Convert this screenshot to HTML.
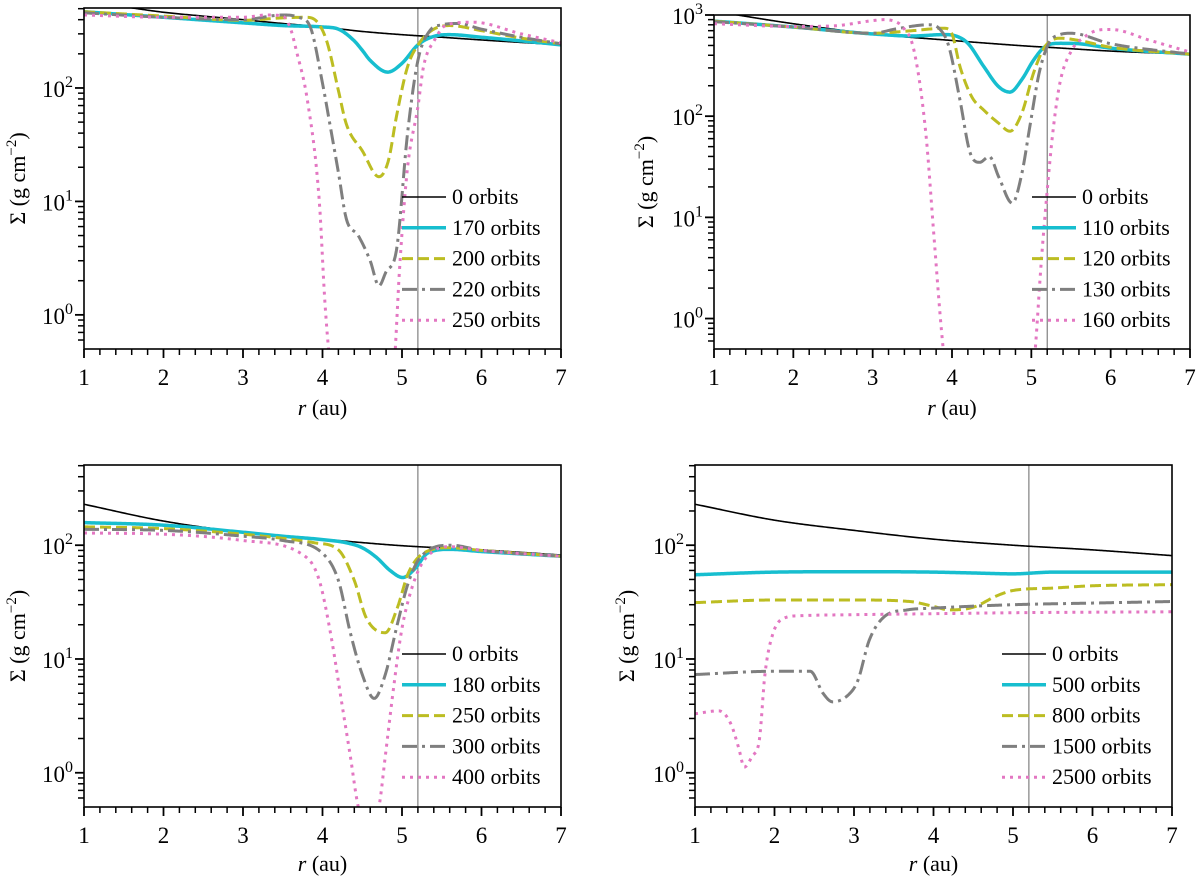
<!DOCTYPE html>
<html><head><meta charset="utf-8"><title>Surface density profiles</title>
<style>
html,body{margin:0;padding:0;background:#fff;}
svg{display:block;font-family:"Liberation Serif",serif;}
</style></head>
<body>
<svg id="fig" width="1200" height="878" viewBox="0 0 1200 878" xmlns="http://www.w3.org/2000/svg"></svg>
<script>
// ---------- Panel 1 (top-left) ----------
const p1_r0=[1,1.5,2,2.5,3,3.5,4,4.5,5,5.5,6,6.5,7];
const p1_s0=[580,520,465,430,400,370,345,315,295,280,265,252,240];
const p1_r1=[1,2,3,3.5,4,4.2,4.4,4.5,4.6,4.82,5.0,5.2,5.4,5.6,6,6.5,7];
const p1_s1=[470,420,375,355,345,330,260,215,175,138,165,240,285,295,280,260,240];
const p1_r2=[1,2,3,3.5,3.8,3.95,4.06,4.2,4.3,4.5,4.71,4.83,4.93,5.07,5.22,5.4,5.6,6,6.5,7];
const p1_s2=[470,430,395,415,420,370,250,95,48,28,16.5,23,56,154,250,330,355,320,275,245];
const p1_r3=[1,2,3,3.5,3.7,3.85,4.0,4.1,4.2,4.3,4.45,4.6,4.71,4.8,4.93,5.07,5.2,5.35,5.5,5.7,6,6.5,7];
const p1_s3=[460,420,400,440,420,340,110,45,18,7,5,3,1.8,2.4,3.7,40,175,320,360,370,330,280,245];
const p1_r4=[1,2,3,3.3,3.5,3.6,3.67,3.81,3.96,4.03,4.1,4.3,4.5,4.7,4.9,4.97,5.07,5.2,5.27,5.41,5.56,5.9,6.5,7];
const p1_s4=[440,420,420,440,430,330,215,78,10,1.3,0.35,0.1,0.1,0.1,0.35,2.6,20,68,154,265,360,380,300,250];
const p1_labels=["0 orbits","170 orbits","200 orbits","220 orbits","250 orbits"];
// ---------- Panel 2 (top-right) ----------
const p2_r0=[1,1.3,2,3,4,5,5.2,6,7];
const p2_s0=[1100,1000,820,650,560,490,480,440,410];
const p2_r1=[1,2,3,3.5,3.9,4.05,4.2,4.4,4.59,4.73,4.88,5.03,5.17,5.36,5.6,6,7];
const p2_s1=[870,760,650,620,640,620,525,310,195,173,230,360,485,525,520,470,410];
const p2_r2=[1,2,3,3.5,3.9,4.0,4.1,4.25,4.4,4.59,4.73,4.88,5.03,5.17,5.36,5.6,6,7];
const p2_s2=[870,760,660,700,740,650,310,155,115,85,71,107,270,485,590,560,480,410];
const p2_r3=[1,2,3,3.3,3.7,3.85,3.96,4.1,4.23,4.35,4.47,4.59,4.76,4.88,4.98,5.1,5.22,5.36,5.5,6,7];
const p2_s3=[860,760,660,730,800,720,490,145,43,35,40,25,13.8,27,78,270,525,640,660,520,410];
const p2_r4=[1,2,2.5,3.0,3.15,3.3,3.38,3.52,3.67,3.77,3.87,3.95,4.2,4.6,5.0,5.05,5.12,5.19,5.27,5.36,5.51,5.65,5.85,6.0,6.5,7];
const p2_s4=[820,770,780,880,900,850,760,450,68,6.9,0.72,0.2,0.1,0.1,0.2,0.5,3.2,15,68,213,450,590,710,720,560,430];
const p2_labels=["0 orbits","110 orbits","120 orbits","130 orbits","160 orbits"];
// ---------- Panel 3 (bottom-left) ----------
const p3_r0=[1,2,3,4,5,6,7];
const p3_s0=[229,163,130,113,99,91,82];
const p3_r1=[1,2,3,3.5,4,4.3,4.5,4.68,4.85,5.01,5.17,5.32,5.6,6,7];
const p3_s1=[158,150,130,120,112,105,95,78,60,52,63,85,92,88,80];
const p3_r2=[1,2,3,3.5,3.9,4.2,4.4,4.55,4.79,4.94,5.08,5.27,5.6,6,7];
const p3_s2=[145,140,125,115,105,91,49,23,17,28,57,85,95,90,80];
const p3_r3=[1,2,3,3.5,4.0,4.2,4.35,4.5,4.65,4.79,4.94,5.08,5.23,5.62,6,7];
const p3_s3=[138,135,120,110,85,49,17,7.3,4.5,7.3,20,47,78,100,90,80];
const p3_r4=[1,2,3,3.8,3.96,4.1,4.25,4.35,4.45,4.58,4.71,4.79,4.89,4.99,5.08,5.23,5.42,5.6,6,7];
const p3_s4=[128,125,110,78,49,17,3.8,1.4,0.5,0.3,0.5,1.4,5.3,17,33,65,91,97,90,80];
const p3_labels=["0 orbits","180 orbits","250 orbits","300 orbits","400 orbits"];
// ---------- Panel 4 (bottom-right) ----------
const p4_r0=[1,2,3,4,5,6,7];
const p4_s0=[229,166,135,113,100,91,81];
const p4_r1=[1,2,3,4,4.5,5,5.5,6,7];
const p4_s1=[55,58,58.5,58,57,56,58,58,58];
const p4_r2=[1,2,3,3.7,4,4.2,4.5,4.8,5,5.5,6,7];
const p4_s2=[31.3,33,33,32,29,27,28.5,36,40,42,44,45];
const p4_r3=[1,2,2.45,2.61,2.73,2.95,3.05,3.19,3.38,3.67,4,5,6,7];
const p4_s3=[7.3,7.8,7.8,5.0,4.2,5.0,6.5,14.5,23.5,27,28,30,31,32];
const p4_r4=[1,1.3,1.45,1.55,1.62,1.72,1.81,1.88,1.98,2.13,2.32,3,4,5,7];
const p4_s4=[3.3,3.5,2.7,1.65,1.12,1.4,1.95,7.4,16.7,23,24,24.5,25,25.5,26];
const p4_labels=["0 orbits","500 orbits","800 orbits","1500 orbits","2500 orbits"];
const xTicks=[1,2,3,4,5,6,7];
const planetR=5.2;

const NS="http://www.w3.org/2000/svg";
const svg=document.getElementById('fig');
function mk(tag,attrs,parent){const e=document.createElementNS(NS,tag);for(const k in attrs)e.setAttribute(k,attrs[k]);(parent||svg).appendChild(e);return e;}

const styles=[
 {stroke:"#000",w:1.6,dash:null},
 {stroke:"#17becf",w:3.5,dash:null},
 {stroke:"#bcbd22",w:3,dash:"11,5"},
 {stroke:"#7f7f7f",w:3,dash:"15,5,3,5"},
 {stroke:"#e377c2",w:3,dash:"3,5"}
];
const panels=[
 {id:"top-left",x0:84,x1:561,yT:8,yB:349,lmin:-0.301,lmax:2.705,rs:[p1_r0,p1_r1,p1_r2,p1_r3,p1_r4],ss:[p1_s0,p1_s1,p1_s2,p1_s3,p1_s4],labels:p1_labels,legX:402,legY:197,ylabX:18,xt:36,xl:66},
 {id:"top-right",x0:714,x1:1190,yT:15,yB:349,lmin:-0.301,lmax:3,rs:[p2_r0,p2_r1,p2_r2,p2_r3,p2_r4],ss:[p2_s0,p2_s1,p2_s2,p2_s3,p2_s4],labels:p2_labels,legX:1032,legY:197,ylabX:646,xt:36,xl:66},
 {id:"bottom-left",x0:84,x1:561,yT:465,yB:807,lmin:-0.301,lmax:2.705,rs:[p3_r0,p3_r1,p3_r2,p3_r3,p3_r4],ss:[p3_s0,p3_s1,p3_s2,p3_s3,p3_s4],labels:p3_labels,legX:402,legY:654,ylabX:18,xt:36,xl:64},
 {id:"bottom-right",x0:695,x1:1172,yT:465,yB:807,lmin:-0.301,lmax:2.705,rs:[p4_r0,p4_r1,p4_r2,p4_r3,p4_r4],ss:[p4_s0,p4_s1,p4_s2,p4_s3,p4_s4],labels:p4_labels,legX:1002,legY:654,ylabX:627,xt:36,xl:64}
];

function monotone(xs,ys){
 const n=xs.length,d=[],m=new Array(n);
 for(let i=0;i<n-1;i++)d.push((ys[i+1]-ys[i])/(xs[i+1]-xs[i]));
 m[0]=d[0];m[n-1]=d[n-2];
 for(let i=1;i<n-1;i++){m[i]=(d[i-1]*d[i]<=0)?0:(d[i-1]+d[i])/2;}
 for(let i=0;i<n-1;i++){if(d[i]===0){m[i]=0;m[i+1]=0;continue;}const a=m[i]/d[i],b=m[i+1]/d[i],s=a*a+b*b;if(s>9){const t=3/Math.sqrt(s);m[i]=t*a*d[i];m[i+1]=t*b*d[i];}}
 return function(x){let i=0;while(i<n-2&&x>xs[i+1])i++;const h=xs[i+1]-xs[i],t=(x-xs[i])/h,t2=t*t,t3=t2*t;
  return (2*t3-3*t2+1)*ys[i]+(t3-2*t2+t)*h*m[i]+(-2*t3+3*t2)*ys[i+1]+(t3-t2)*h*m[i+1];};
}

panels.forEach((P,pi)=>{
 const g=mk('g',{});
 
 
 const X=r=>P.x0+(r-1)/6*(P.x1-P.x0);
 const Y=v=>P.yB-(Math.log10(v)-P.lmin)/(P.lmax-P.lmin)*(P.yB-P.yT);
 const cp=mk('clipPath',{id:'clip'+pi},g);
 mk('rect',{x:P.x0,y:P.yT,width:P.x1-P.x0,height:P.yB-P.yT},cp);
 const pl=mk('line',{x1:X(planetR),x2:X(planetR),y1:P.yT,y2:P.yB,stroke:"#666",'stroke-width':1},g);
 
 
 const sg=mk('g',{'clip-path':'url(#clip'+pi+')'},g);
 P.rs.forEach((rs,si)=>{
  const ls=P.ss[si].map(v=>Math.log10(v));
  const f=monotone(rs,ls);
  let d="";const N=400;
  for(let k=0;k<=N;k++){const r=rs[0]+(rs[rs.length-1]-rs[0])*k/N;const l=f(r);const y=P.yB-(l-P.lmin)/(P.lmax-P.lmin)*(P.yB-P.yT);d+=(k?"L":"M")+X(r).toFixed(2)+","+y.toFixed(2);}
  const st=styles[si];
  const p=mk('path',{d:d,fill:"none",stroke:st.stroke,'stroke-width':st.w,'stroke-linejoin':'round'},sg);
  if(st.dash)p.setAttribute('stroke-dasharray',st.dash);
  
  
 });
 const fr=mk('rect',{x:P.x0,y:P.yT,width:P.x1-P.x0,height:P.yB-P.yT,fill:"none",stroke:"#000",'stroke-width':1.6},g);
 
 
 for(let k=0;k<=30;k++){const r=1+k*0.2;const major=k%5===0;
  mk('line',{x1:X(r),x2:X(r),y1:P.yB,y2:P.yB+(major?9:6),stroke:"#000",'stroke-width':major?1.8:1.5},g);}
 xTicks.forEach(t=>{const tx=mk('text',{x:X(t),y:P.yB+P.xt,'font-size':23,'text-anchor':'middle'},g);tx.textContent=t;
  
  });
 const xl=mk('text',{x:(P.x0+P.x1)/2,y:P.yB+P.xl,'font-size':22,'text-anchor':'middle'},g);
 
 
 const xi=mk('tspan',{'font-style':'italic'},xl);xi.textContent='r';
 const xr=mk('tspan',{},xl);xr.textContent=' (au)';
 for(let dec=-1;dec<=3;dec++){for(let m=1;m<=9;m++){const v=m*Math.pow(10,dec);const l=Math.log10(v);
  if(l<P.lmin-1e-6||l>P.lmax+1e-6)continue;const y=Y(v);
  mk('line',{x1:P.x0,x2:P.x0-(m===1?9:6),y1:y,y2:y,stroke:"#000",'stroke-width':m===1?1.8:1.5},g);
  if(m===1){const tl=mk('text',{x:P.x0-19,y:y+9,'font-size':23,'text-anchor':'end'},g);
   
   
   tl.textContent='10';
   const sp=mk('text',{x:P.x0-19,y:y-1,'font-size':16,'text-anchor':'start'},g);sp.textContent=String(dec);}
 }}
 const yc=(P.yT+P.yB)/2;
 const yl=mk('text',{x:P.ylabX,y:yc,'font-size':22,'text-anchor':'middle',transform:'rotate(-90 '+P.ylabX+' '+yc+')',dy:7},g);
 
 
 const t1=mk('tspan',{},yl);t1.textContent='Σ (g cm';
 const t2=mk('tspan',{dy:-9,'font-size':15},yl);t2.textContent='−2';
 const t3=mk('tspan',{dy:9},yl);t3.textContent=')';
 const lg=mk('g',{},g);
 
 
 P.labels.forEach((lab,si)=>{const y=P.legY+si*30.8;const st=styles[si];
  const e=mk('g',{},lg);
  
  
  const ln=mk('line',{x1:P.legX,x2:P.legX+44,y1:y,y2:y,stroke:st.stroke,'stroke-width':st.w},e);
  if(st.dash)ln.setAttribute('stroke-dasharray',st.dash);
  const tx=mk('text',{x:P.legX+50,y:y+7,'font-size':22},e);tx.textContent=lab;});
});
</script>
</body></html>
